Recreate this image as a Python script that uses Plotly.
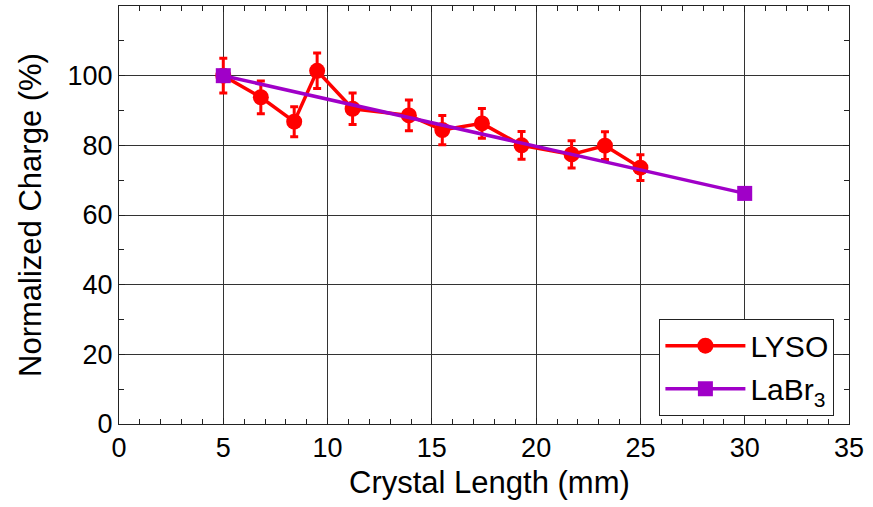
import plotly.graph_objects as go

lyso_x = [5.0, 6.8, 8.4, 9.5, 11.2, 13.9, 15.5, 17.4, 19.3, 21.7, 23.3, 25.0]
lyso_y = [100.0, 93.8, 86.8, 101.4, 90.5, 88.6, 84.4, 86.3, 80.0, 77.4, 79.9, 73.6]
lyso_err = [5.0, 4.7, 4.3, 5.1, 4.5, 4.4, 4.2, 4.3, 4.0, 3.9, 4.0, 3.7]

labr_x = [5.0, 30.0]
labr_y = [100.0, 66.2]

x_ticks = [0, 5, 10, 15, 20, 25, 30, 35]
y_ticks = [0, 20, 40, 60, 80, 100]

x_title = "Crystal Length (mm)"
y_title = "Normalized Charge (%)"

RED = "#FF0000"
PURPLE = "#A000C8"
FONT = "Liberation Sans, Arial, sans-serif"

fig = go.Figure()
fig.add_trace(go.Scatter(
    x=lyso_x, y=lyso_y, name="LYSO", mode="lines+markers", legendgroup="a",
    line=dict(color=RED, width=3.5),
    marker=dict(symbol="circle", size=16, color=RED),
    error_y=dict(type="data", array=lyso_err, visible=True,
                 color=RED, thickness=3, width=4),
))
fig.add_trace(go.Scatter(
    x=labr_x, y=labr_y, name="LaBr<sub>3</sub>", mode="lines+markers", legendgroup="b",
    line=dict(color=PURPLE, width=3.5),
    marker=dict(symbol="square", size=15, color=PURPLE),
))

axis_common = dict(
    showline=True, linecolor="#222", linewidth=1, mirror="allticks",
    ticks="inside", ticklen=6, tickcolor="#222", tickwidth=1,
    showgrid=True, gridcolor="#333", gridwidth=1, zeroline=False,
    tickfont=dict(family=FONT, size=27, color="black"),
    automargin=False,
)

fig.update_xaxes(
    range=[0, 35], tickvals=x_ticks,
    minor=dict(dtick=1, ticks="inside", ticklen=5, tickcolor="#222", showgrid=False),
    **axis_common,
)
fig.update_yaxes(
    range=[0, 120], tickvals=y_ticks,
    minor=dict(dtick=10, ticks="inside", ticklen=5, tickcolor="#222", showgrid=False),
    **axis_common,
)

fig.add_annotation(text=x_title, xref="paper", yref="paper", x=0.5075, y=-0.141,
                   xanchor="center", yanchor="middle", showarrow=False,
                   font=dict(family=FONT, size=31, color="black"))
fig.add_annotation(text=y_title, xref="paper", yref="paper", x=-0.122, y=0.5,
                   xanchor="center", yanchor="middle", showarrow=False, textangle=-90,
                   font=dict(family=FONT, size=31, color="black"))

fig.update_layout(
    width=873, height=507,
    margin=dict(l=119, r=24, t=6, b=83),
    plot_bgcolor="white", paper_bgcolor="white",
    font=dict(family=FONT, color="black"),
    legend=dict(
        x=0.98, y=0.02, xanchor="right", yanchor="bottom",
        bgcolor="white", bordercolor="#222", borderwidth=1,
        font=dict(family=FONT, size=30, color="black"),
        itemwidth=80, tracegroupgap=1,
    ),
    showlegend=True,
)

fig.write_html("out.html", config={"displayModeBar": False},
               post_script="document.body.style.margin='0px';")
